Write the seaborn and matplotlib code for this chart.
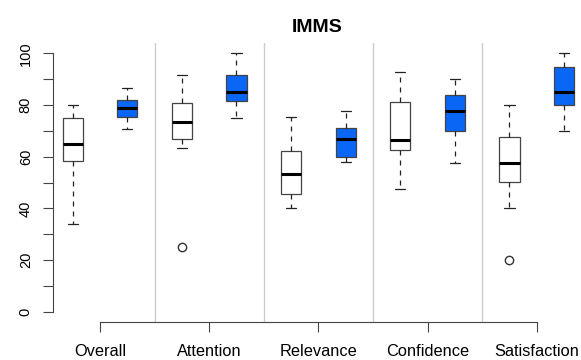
import matplotlib
matplotlib.use("Agg")
import matplotlib.pyplot as plt
import pandas as pd
import seaborn as sns

# escalas e grupos
scales = ["Overall", "Attention", "Relevance", "Confidence", "Satisfaction"]
groups = ["pre", "post"]

# cinco números, ordem: (escala, grupo)
lows = [34.0, 70.9, 63.3, 75.0, 40.2, 57.8, 47.5, 57.5, 40.2, 70.0]
q1s = [58.4, 75.2, 66.8, 81.7, 45.7, 60.0, 62.4, 70.0, 50.1, 79.9]
medians = [64.9, 78.8, 73.4, 85.1, 53.4, 66.7, 66.3, 77.5, 57.5, 84.9]
q3s = [74.9, 81.9, 80.7, 91.5, 62.2, 71.2, 81.3, 83.7, 67.6, 94.9]
highs = [80.0, 86.5, 91.6, 100.0, 75.5, 77.7, 92.7, 90.0, 80.0, 100.0]
outliers = [None, None, 25.0, None, None, None, None, None, 20.0, None]

# Montar tabela longa (9 pontos por caixa -> quartis batem com os valores lidos)
rows = []
i = 0
for s in scales:
    for g in groups:
        first = outliers[i] if outliers[i] is not None else lows[i]
        vals = [first, lows[i], q1s[i], medians[i], medians[i], medians[i],
                q3s[i], highs[i], highs[i]]
        for v in vals:
            rows.append({"scale": s, "group": g, "value": v})
        i += 1
df = pd.DataFrame(rows)

sns.set_style("ticks")
plt.rcParams["font.family"] = ["Liberation Sans", "DejaVu Sans"]
plt.rcParams["text.color"] = "black"
plt.rcParams["xtick.labelcolor"] = "black"
plt.rcParams["ytick.labelcolor"] = "black"

fig = plt.figure(figsize=(5.81, 3.6), dpi=100)
ax = fig.add_axes([53 / 581, 1 - 322 / 360, 1 - 53 / 581, 279 / 360])

edge = "#444444"
sns.boxplot(data=df, x="scale", y="value", hue="group", order=scales,
            hue_order=groups, palette={"pre": "white", "post": "#0a66f5"},
            saturation=1, width=1, gap=0.63, linecolor=edge, linewidth=0.9,
            whiskerprops={"linestyle": (0, (4, 4)), "color": "#222222"},
            capprops={"color": "#222222"},
            medianprops={"color": "black", "linewidth": 2.2},
            flierprops={"marker": "o", "markerfacecolor": "none",
                        "markeredgecolor": "#333333", "markersize": 6,
                        "markeredgewidth": 1},
            legend=False, ax=ax)

# linhas separadoras
for xv in [0.5, 1.5, 2.5, 3.5]:
    ax.axvline(xv, color="#cccccc", linewidth=1, zorder=0)

ax.set_xlim(-0.43, 4.405)
ax.set_ylim(-4, 104)
yt = list(range(0, 101, 10))
ax.set_yticks(yt)
ax.set_yticklabels([str(v) if v % 20 == 0 else "" for v in yt],
                   rotation=90, va="center", fontsize=10.5)
ax.tick_params(axis="y", length=7.5, width=0.8, pad=7, color=edge,
               labelcolor="black")
ax.tick_params(axis="x", length=7.5, width=0.8, pad=8, color=edge,
               labelsize=11.8, labelcolor="black")
ax.set_xlabel("")
ax.set_ylabel("")

for side in ["top", "right"]:
    ax.spines[side].set_visible(False)
ax.spines["left"].set_bounds(0, 100)
ax.spines["bottom"].set_bounds(0, 4)
for side in ["left", "bottom"]:
    ax.spines[side].set_color(edge)
    ax.spines[side].set_linewidth(0.8)

ax.set_title("IMMS", fontsize=14, fontweight="bold", pad=8, color="black")

fig.savefig("out.png", dpi=100)
